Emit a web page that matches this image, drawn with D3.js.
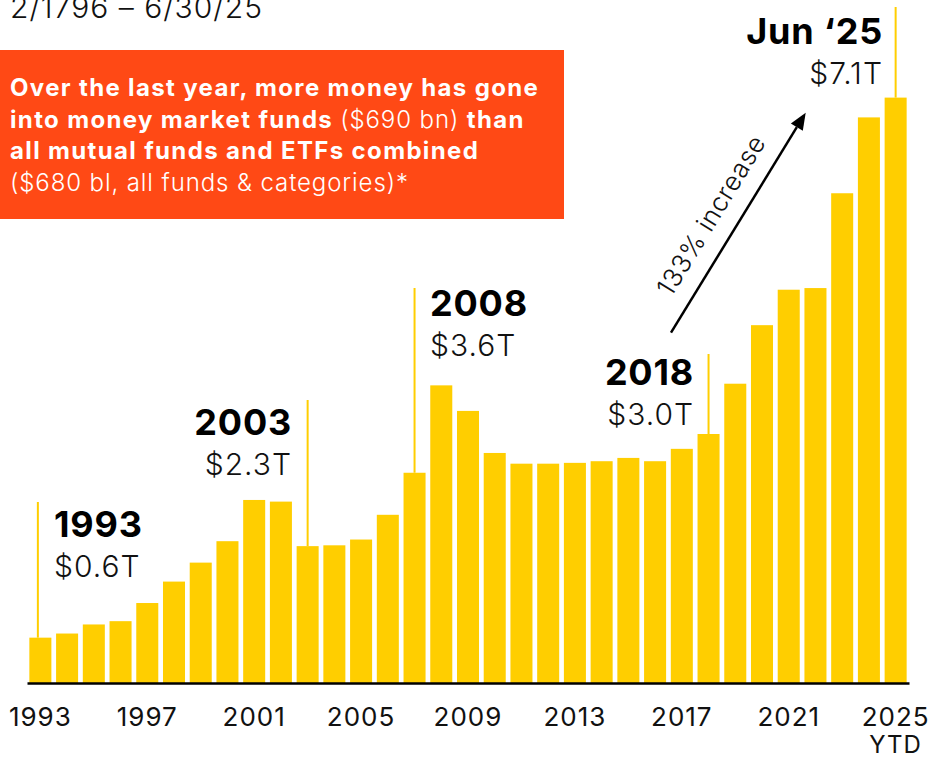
<!DOCTYPE html>
<html>
<head>
<meta charset="utf-8">
<script src="https://cdn.jsdelivr.net/npm/d3@7"></script>
<style>
  html, body { margin: 0; padding: 0; background: #fff; }
  svg { display: block; font-family: "Inter", "Roboto", sans-serif; }
</style>
</head>
<body>
<div id="vis-container"></div>
<script>
// Money market fund assets, year end ($ trillions), 2025 = YTD (June)
const years = ["1993","1994","1995","1996","1997","1998","1999","2000","2001","2002","2003",
  "2004","2005","2006","2007","2008","2009","2010","2011","2012","2013","2014","2015",
  "2016","2017","2018","2019","2020","2021","2022","2023","2024","2025"];
const assets = [0.55, 0.60, 0.71, 0.75, 0.97, 1.23, 1.46, 1.72, 2.22, 2.20, 1.66,
  1.67, 1.74, 2.04, 2.55, 3.61, 3.30, 2.79, 2.66, 2.66, 2.67, 2.69, 2.73,
  2.69, 2.84, 3.02, 3.63, 4.34, 4.77, 4.79, 5.94, 6.86, 7.10];
const tickYears = ["1993","1997","2001","2005","2009","2013","2017","2021","2025"];

// callouts
const calloutYears = ["1993", "2003", "2007", "2018", "2025"];
const calloutTitles = ["1993", "2003", "2008", "2018", "Jun \u201825"];
const calloutValues = ["$0.6T", "$2.3T", "$3.6T", "$3.0T", "$7.1T"];

const subtitle = "2/1796 \u2013 6/30/25";
const arrowLabel = "133% increase";

const width = 928, height = 762;
const barColor = "#ffce00";
const boxColor = "#ff4915";

const svg = d3.select("#vis-container")
  .append("svg")
  .attr("width", width)
  .attr("height", height);

const x = d3.scaleBand()
  .domain(years)
  .range([27, 909])
  .paddingInner(0.176)
  .paddingOuter(0.088);

const y = d3.scaleLinear()
  .domain([0, 8])
  .range([683, 683 - 8 * 82.45]);

const data = years.map((yr, i) => ({ year: yr, value: assets[i] }));

// bars
svg.append("g")
  .selectAll("rect")
  .data(data)
  .enter()
  .append("rect")
  .attr("x", d => x(d.year))
  .attr("y", d => y(d.value))
  .attr("width", x.bandwidth())
  .attr("height", d => y(0) - y(d.value))
  .attr("fill", barColor);

// x axis
const xAxis = d3.axisBottom(x)
  .tickValues(tickYears)
  .tickSize(0)
  .tickSizeOuter(0)
  .tickPadding(25);

const axisG = svg.append("g")
  .attr("transform", `translate(0,${y(0)})`)
  .call(xAxis);

axisG.select(".domain").attr("stroke", "#000").attr("stroke-width", 2.5);
axisG.selectAll(".tick text")
  .attr("fill", "#111")
  .attr("font-size", 26)
  .attr("font-weight", 400)
  .attr("letter-spacing", 1)
  .attr("font-family", "Inter, Roboto, sans-serif");

axisG.selectAll(".tick")
  .filter(d => d === "2025")
  .append("text")
  .attr("y", 70)
  .attr("fill", "#111")
  .attr("font-size", 24)
  .attr("letter-spacing", 1)
  .attr("text-anchor", "middle")
  .attr("font-family", "Inter, Roboto, sans-serif")
  .text("YTD");

// callout lines + labels
const calloutLayout = [
  { lineTop: 502, anchor: "start", tx: 54,  ty: 537, dx: -2.5 },
  { lineTop: 400, anchor: "end",   tx: 291, ty: 435, dx: 0 },
  { lineTop: 288, anchor: "start", tx: 430, ty: 316, dx: 0 },
  { lineTop: 354, anchor: "end",   tx: 693, ty: 385, dx: 0 },
  { lineTop: 7,   anchor: "end",   tx: 882, ty: 44,  dx: 0 }
];

calloutYears.forEach((yr, i) => {
  const L = calloutLayout[i];
  const cx = x(yr) + x.bandwidth() / 2 + L.dx;
  const v = assets[years.indexOf(yr)];
  svg.append("line")
    .attr("x1", cx).attr("x2", cx)
    .attr("y1", L.lineTop)
    .attr("y2", y(v))
    .attr("stroke", barColor)
    .attr("stroke-width", 2);

  const endShift = L.anchor === "end" ? 1 : 0;
  svg.append("text")
    .attr("x", L.tx + endShift)
    .attr("y", L.ty)
    .attr("text-anchor", L.anchor)
    .attr("font-size", 36)
    .attr("font-weight", 700)
    .attr("letter-spacing", 0.8)
    .attr("fill", "#000")
    .text(calloutTitles[i]);

  svg.append("text")
    .attr("x", L.tx + endShift)
    .attr("y", L.ty + 40)
    .attr("text-anchor", L.anchor)
    .attr("font-size", 30)
    .attr("font-weight", 300)
    .attr("letter-spacing", 1)
    .attr("fill", "#111")
    .text(calloutValues[i]);
});

// arrow 2018 -> 2025
const tail = [671, 332.7], tip = [805.7, 112.7];
const ang = Math.atan2(tip[1] - tail[1], tip[0] - tail[0]);
const headLen = 17, headW = 7;
const base = [tip[0] - headLen * Math.cos(ang), tip[1] - headLen * Math.sin(ang)];

svg.append("line")
  .attr("x1", tail[0]).attr("y1", tail[1])
  .attr("x2", base[0]).attr("y2", base[1])
  .attr("stroke", "#000")
  .attr("stroke-width", 2.5);

svg.append("path")
  .attr("d", d3.line()([
    tip,
    [base[0] + headW * Math.sin(ang), base[1] - headW * Math.cos(ang)],
    [base[0] - headW * Math.sin(ang), base[1] + headW * Math.cos(ang)]
  ]) + "Z")
  .attr("fill", "#000");

const mid = [(tail[0] + tip[0]) / 2, (tail[1] + tip[1]) / 2];
const ux = Math.cos(ang), uy = Math.sin(ang);
const nx = uy, ny = -ux; // normal toward upper-left
const lx = mid[0] + nx * 18 - ux * 8, ly = mid[1] + ny * 18 - uy * 8;

svg.append("text")
  .attr("transform", `translate(${lx},${ly}) rotate(${ang * 180 / Math.PI})`)
  .attr("text-anchor", "middle")
  .attr("font-size", 26)
  .attr("font-weight", 300)
  .attr("letter-spacing", 0.5)
  .attr("fill", "#111")
  .text(arrowLabel);

// subtitle (cut off at top)
svg.append("text")
  .attr("x", 10)
  .attr("y", 18)
  .attr("font-size", 30)
  .attr("font-weight", 300)
  .attr("letter-spacing", 1)
  .attr("fill", "#111")
  .text(subtitle);

// orange callout box
svg.append("rect")
  .attr("x", 0).attr("y", 50)
  .attr("width", 564).attr("height", 169)
  .attr("fill", boxColor);

const boxLines = [
  [["Over the last year, more money has gone", 700]],
  [["into money market funds ", 700], ["($690 bn) ", 300], ["than", 700]],
  [["all mutual funds and ETFs combined", 700]],
  [["($680 bl, all funds & categories)*", 300]]
];

boxLines.forEach((parts, i) => {
  const t = svg.append("text")
    .attr("x", 10)
    .attr("y", 96 + i * 31.7)
    .attr("font-size", 24)
    .attr("fill", "#fff");
  parts.forEach(p => {
    t.append("tspan")
      .attr("font-weight", p[1])
      .attr("letter-spacing", p[1] === 700 ? 1.35 : 0.9)
      .attr("xml:space", "preserve")
      .text(p[0]);
  });
});
</script>
</body>
</html>
